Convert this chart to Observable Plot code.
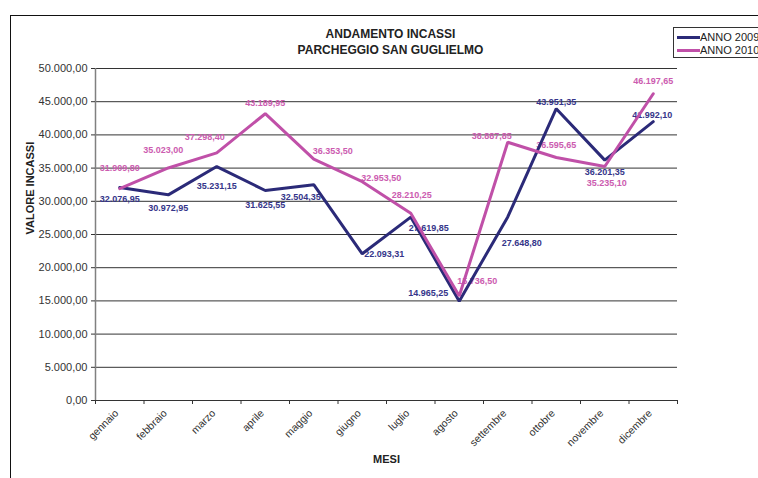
<!DOCTYPE html>
<html>
<head>
<meta charset="utf-8">
<script src="https://cdn.jsdelivr.net/npm/d3@7"></script>
<script src="https://cdn.jsdelivr.net/npm/@observablehq/plot@0.6"></script>
<style>
  html, body { margin: 0; padding: 0; background: #fff; overflow: hidden; width: 758px; height: 478px; }
  #wrap { position: relative; width: 758px; height: 478px; font-family: "Liberation Sans", Arial, sans-serif; }
  #frame { position: absolute; left: 10px; top: 15px; width: 900px; height: 600px; border: 1px solid #111; box-sizing: border-box; }
  #chart { position: absolute; left: 0; top: 0; }
  #legend { position: absolute; left: 673px; top: 27px; width: 120px; height: 31px; border: 1px solid #333; box-sizing: border-box; background: #fff; font-size: 11px; color: #222; }
  .li { position: absolute; left: 3px; height: 14px; line-height: 14px; white-space: nowrap; }
  .li span.sw { display: inline-block; width: 23px; height: 3px; vertical-align: middle; margin-right: 0px; position: relative; top: -1px; }
</style>
</head>
<body>
<div id="wrap">
  <div id="frame"></div>
  <div id="chart"></div>
  <div id="legend"></div>
</div>
<script>
const months = ["gennaio","febbraio","marzo","aprile","maggio","giugno","luglio","agosto","settembre","ottobre","novembre","dicembre"];
const anno2009 = [32076.95, 30972.95, 35231.15, 31625.55, 32504.35, 22093.31, 27619.85, 14965.25, 27648.80, 43951.35, 36201.35, 41992.10];
const anno2010 = [31909.80, 35023.00, 37298.40, 43189.95, 36353.50, 32953.50, 28210.25, 15736.50, 38887.85, 36595.65, 35235.10, 46197.65];
const yTicks = [0, 5000, 10000, 15000, 20000, 25000, 30000, 35000, 40000, 45000, 50000];
const seriesNames = ["ANNO 2009", "ANNO 2010"];

// label placement (style, not data)
const off2009 = [[0,12],[0,13],[0,20],[0,15],[-13,12],[22,0],[18,11],[-31,-8],[14,26],[0,-7],[0,12],[-1,-7]];
const off2010 = [[0,-21],[-5,-18],[-12,-16],[0,-11],[19,-8],[19,-4],[1,-18],[18,-15],[-16,-6],[0,-12],[2,17],[0,-13]];

const col2009 = "#2b2a78", col2010 = "#c050a8";
const txt2009 = "#35358a", txt2010 = "#cc5cb0";

const it = d3.formatLocale({decimal: ",", thousands: ".", grouping: [3], currency: ["€", ""]});
const fmt = it.format(",.2f");

const d2009 = months.map((m, i) => ({i, x: i + 0.5, v: anno2009[i], label: fmt(anno2009[i])}));
const d2010 = months.map((m, i) => ({i, x: i + 0.5, v: anno2010[i], label: fmt(anno2010[i])}));
const bandEdges = months.map((m, i) => i).concat([months.length]);
const bandCenters = months.map((m, i) => i + 0.5);

const labelMarks = (data, offs, color) => data.map((d, k) =>
  Plot.text([d], {x: "x", y: "v", text: "label", dx: offs[k][0], dy: offs[k][1],
    fill: color, fontSize: 9, fontWeight: "bold"}));

const chart = Plot.plot({
  width: 758, height: 478,
  marginLeft: 95, marginRight: 81, marginTop: 68, marginBottom: 78,
  style: {fontFamily: "'Liberation Sans', Arial, sans-serif", background: "transparent", overflow: "visible"},
  x: {type: "linear", domain: [0, 12]},
  y: {domain: [0, 50000]},
  marks: [
    Plot.ruleY(yTicks, {stroke: "#333", strokeWidth: 1}),
    Plot.ruleX([0], {stroke: "#808080", strokeWidth: 1.5}),
    Plot.axisY({ticks: yTicks, tickFormat: fmt, tickSize: 4, tickPadding: 4, fontSize: 11, color: "#333", label: null}),
    Plot.axisX({ticks: bandEdges, tickFormat: () => "", tickSize: 4, color: "#333", label: null}),
    Plot.axisX({ticks: bandCenters, tickFormat: d => months[Math.floor(d)], tickSize: 0, tickPadding: 11, dx: -3, tickRotate: -45, fontSize: 10.5, color: "#333", label: null}),
    Plot.text(["VALORE INCASSI"], {frameAnchor: "left", dx: -65, rotate: -90, fontWeight: "bold", fontSize: 11, fill: "#222"}),
    Plot.text(["MESI"], {frameAnchor: "bottom", dy: 62, fontWeight: "bold", fontSize: 11, fill: "#222"}),
    Plot.text(["ANDAMENTO INCASSI"], {frameAnchor: "top", dx: 4, dy: -34, lineAnchor: "middle", fontWeight: "bold", fontSize: 12, fill: "#222"}),
    Plot.text(["PARCHEGGIO SAN GUGLIELMO"], {frameAnchor: "top", dx: 4, dy: -18, lineAnchor: "middle", fontWeight: "bold", fontSize: 12, fill: "#222"}),
    ...labelMarks(d2009, off2009, txt2009),
    ...labelMarks(d2010, off2010, txt2010),
    Plot.line(d2009, {x: "x", y: "v", stroke: col2009, strokeWidth: 3, strokeLinejoin: "miter"}),
    Plot.line(d2010, {x: "x", y: "v", stroke: col2010, strokeWidth: 3, strokeLinejoin: "miter"})
  ]
});
document.getElementById("chart").appendChild(chart);

const legend = document.getElementById("legend");
[[seriesNames[0], col2009, 2], [seriesNames[1], col2010, 15]].forEach(([name, c, top]) => {
  const el = document.createElement("div");
  el.className = "li";
  el.style.top = top + "px";
  el.innerHTML = `<span class="sw" style="background:${c}"></span>${name}`;
  legend.appendChild(el);
});
</script>
</body>
</html>
